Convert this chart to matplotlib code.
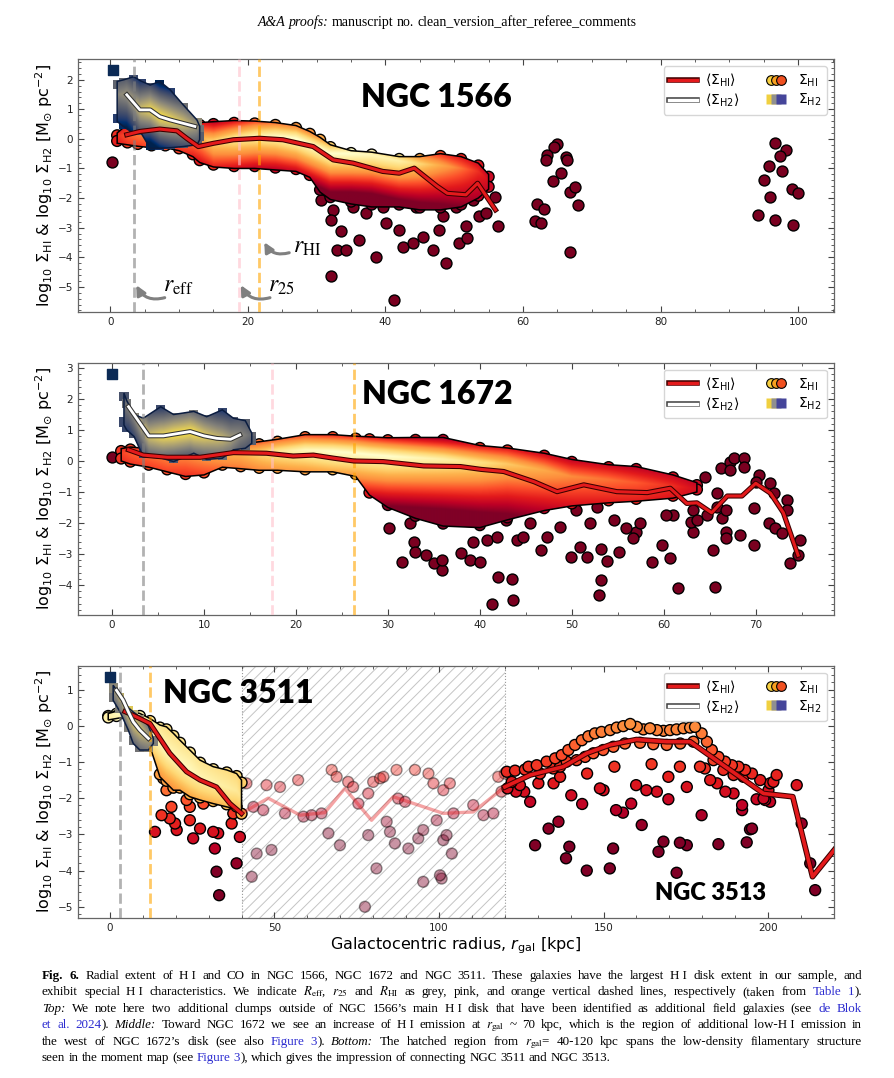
import numpy as np
import matplotlib
matplotlib.use('Agg')
import matplotlib.pyplot as plt
import matplotlib.patheffects as pe
from matplotlib.patches import Polygon
from matplotlib.lines import Line2D
from matplotlib.legend_handler import HandlerTuple
from matplotlib.ticker import MultipleLocator
from matplotlib.colors import Normalize

# ---------------- NGC 1566 ----------------
r1_hi = [2.4, 4.3, 7.2, 9.7, 11.1, 12.8, 15.0, 17.9, 21.7, 25.1, 29.5, 32.4, 35.3, 39.6,
         42.0, 44.2, 47.5, 49.0, 51.7, 53.4, 56.0]
s1_hi = [0.14, 0.25, 0.33, 0.27, 0.02, -0.26, -0.15, -0.03, 0.02, -0.03, -0.26, -0.71, -0.82,
         -1.10, -1.16, -0.99, -1.60, -1.84, -1.89, -1.50, -2.40]
r1_h2 = [2.4, 4.3, 5.8, 7.2, 8.7, 12.3]
s1_h2 = [1.49, 0.98, 0.98, 0.75, 0.64, 0.42]

# dense HI cloud: radius, upper / lower edge, densest ridge and relative density
r1_env = [1.0, 2.5, 4.0, 6.0, 8.0, 10.0, 12.0, 13.0, 15.0, 18.0, 21.0, 24.0, 27.0, 29.0,
          30.5, 32.0, 35.0, 38.0, 42.0, 45.0, 48.0, 51.0, 53.5, 55.0]
r1_top = [0.20, 0.50, 0.45, 0.45, 0.45, 0.45, 0.55, 0.55, 0.58, 0.62, 0.60, 0.55, 0.45, 0.25,
          0.05, -0.20, -0.40, -0.45, -0.60, -0.60, -0.50, -0.60, -0.82, -1.20]
r1_bot = [-0.15, -0.20, -0.25, -0.30, -0.30, -0.40, -0.60, -0.80, -0.95, -1.00, -1.00, -1.05,
          -1.10, -1.30, -1.80, -2.05, -2.20, -2.30, -2.30, -2.40, -2.40, -2.30, -2.00, -1.70]
ridge1 = [0.10, 0.10, 0.10, 0.10, 0.10, 0.10, 0.10, 0.05, -0.10, 0.00, 0.10, 0.10, 0.00, -0.20,
          -0.35, -0.50, -0.50, -0.55, -0.75, -0.85, -0.90, -1.00, -1.10, -1.40]
dens1 = [0.30, 0.40, 0.45, 0.50, 0.50, 0.50, 0.55, 0.60, 0.75, 0.85, 0.90, 0.95, 1.00, 1.00,
         1.00, 1.00, 1.00, 0.95, 0.90, 0.75, 0.60, 0.45, 0.30, 0.20]

# dense H2 cloud
q1_env = [1.0, 2.0, 3.4, 4.5, 5.8, 7.2, 8.7, 10.6, 12.6, 13.0]
q1_top = [1.94, 2.00, 2.10, 1.95, 1.82, 1.94, 1.66, 1.15, 0.64, 0.42]
q1_bot = [0.59, 0.40, 0.19, 0.19, -0.32, -0.32, -0.30, -0.26, -0.20, -0.03]
q1_dens = [0.55, 0.60, 0.70, 0.85, 0.95, 1.00, 0.95, 0.85, 0.65, 0.50]

# sparse HI pixels (main disk outskirts + two field clumps)
r1_pts = [0.3, 30.7, 32.4, 32.1, 33.6, 32.9, 34.3, 36.2, 38.6, 37.2, 40.1, 42.0, 42.5, 44.0,
          45.4, 46.9, 47.8, 48.8, 32.1, 41.3, 35.3, 39.6, 44.4, 48.3, 56.0, 56.3, 53.6, 54.6,
          51.7, 50.7, 51.9, 52.7, 50.2,
          65.0, 64.5, 63.5, 63.3, 66.2, 66.4, 65.5, 64.3, 66.9, 67.6, 68.0, 62.0, 63.0, 61.8,
          62.6, 66.9,
          96.6, 98.3, 97.3, 95.7, 97.6, 95.0, 95.9, 99.1, 100.0, 94.1, 96.6, 99.2]
s1_pts = [-0.77, -2.06, -2.40, -2.74, -3.13, -3.75, -3.75, -3.41, -3.98, -2.51, -2.85, -3.07,
          -3.64, -3.52, -3.30, -3.75, -3.07, -4.20, -4.65, -5.44, -2.29, -2.29, -2.29, -2.62,
          -1.95, -2.96, -2.62, -2.51, -2.96, -3.52, -3.36, -2.06, -2.29,
          -0.17, -0.26, -0.54, -0.71, -0.60, -0.71, -1.14, -1.44, -1.78, -1.61, -2.23, -2.20,
          -2.36, -2.79, -2.85, -3.81,
          -0.15, -0.37, -0.57, -0.91, -1.08, -1.39, -1.95, -1.70, -1.84, -2.57, -2.74, -2.91]
r1_lines = [3.4, 18.7, 21.6]

# ---------------- NGC 1672 ----------------
r2_hi = [1.8, 3.4, 6.0, 9.6, 13.2, 16.8, 19.7, 21.9, 24.1, 26.3, 29.5, 33.9, 37.9, 40.1, 42.6,
         45.9, 48.4, 51.3, 54.9, 58.2, 60.7, 62.5, 63.6, 65.2, 66.9, 68.5, 70.0, 71.6, 73.0, 74.6]
s2_hi = [0.36, 0.19, 0.12, 0.12, 0.27, 0.25, 0.16, 0.19, 0.09, 0.00, -0.02, -0.16, -0.18, -0.27,
         -0.34, -0.67, -0.99, -0.77, -0.99, -1.02, -0.88, -1.37, -1.35, -1.67, -1.13, -1.13,
         -0.72, -1.04, -1.67, -3.04]
r2_h2 = [1.8, 4.0, 5.6, 8.5, 10.0, 11.4, 12.9, 13.9]
s2_h2 = [1.75, 0.81, 0.81, 0.95, 0.81, 0.73, 0.70, 0.84]

h2_env = [1.0, 2.0, 4.0, 6.0, 8.0, 10.0, 12.0, 14.0, 16.0, 18.0, 21.0, 24.0, 26.5, 28.0, 30.0,
          33.0, 36.0, 40.0, 43.0, 47.0, 50.0, 54.0, 57.0, 61.0, 63.6]
h2_top = [0.40, 0.45, 0.40, 0.35, 0.35, 0.40, 0.45, 0.55, 0.62, 0.70, 0.85, 0.85, 0.80, 0.78,
          0.75, 0.76, 0.76, 0.50, 0.42, 0.25, 0.05, -0.12, -0.18, -0.45, -0.70]
h2_bot = [0.00, -0.10, -0.20, -0.35, -0.50, -0.45, -0.20, -0.25, -0.30, -0.30, -0.35, -0.35,
          -0.50, -1.10, -1.50, -1.85, -2.10, -2.15, -1.90, -1.60, -1.45, -1.35, -1.30, -1.20, -1.00]
ridge2 = [0.25, 0.25, 0.20, 0.15, 0.15, 0.15, 0.20, 0.25, 0.25, 0.30, 0.35, 0.30, 0.25, 0.20,
          0.15, 0.10, 0.05, -0.05, -0.10, -0.30, -0.50, -0.60, -0.70, -0.80, -0.90]
dens2 = [0.35, 0.40, 0.45, 0.50, 0.50, 0.55, 0.60, 0.65, 0.75, 0.85, 0.95, 1.00, 1.00, 1.00,
         1.00, 0.95, 0.90, 0.80, 0.70, 0.60, 0.50, 0.45, 0.40, 0.30, 0.20]

q2_env = [1.3, 1.6, 2.4, 3.4, 5.3, 6.7, 8.9, 10.3, 12.0, 13.2, 14.5, 15.2]
q2_top = [2.19, 1.95, 1.50, 1.38, 1.75, 1.50, 1.60, 1.43, 1.65, 1.38, 1.30, 0.90]
q2_bot = [1.16, 1.00, 0.79, 0.14, 0.10, -0.02, 0.25, 0.05, 0.09, 0.36, 0.41, 0.57]
q2_dens = [0.40, 0.50, 0.60, 0.80, 0.95, 1.00, 1.00, 0.90, 0.80, 0.65, 0.50, 0.40]

r2_pts = [0.0, 30.1, 31.5, 32.8, 33.0, 34.1, 35.0, 35.9, 33.5, 32.4,
          35.9, 37.9, 38.9, 40.0, 42.0, 43.5, 41.3, 43.6, 40.8, 39.3, 44.0, 46.6, 47.3, 49.9,
          50.9, 51.6, 53.2, 53.8, 53.2, 53.0, 55.1, 57.0, 56.7, 58.7, 59.8, 60.7, 61.6, 65.6,
          65.4, 63.2, 63.0, 64.7, 65.8, 64.5, 65.8, 66.2, 67.2, 67.6, 68.7, 68.7, 67.2, 70.3,
          70.0, 71.6, 72.0, 73.4, 73.4, 71.4, 72.1, 72.8, 74.8, 73.7, 74.6, 69.8, 69.8, 68.3,
          66.8, 66.8, 66.3, 66.8, 63.2, 63.6, 61.0, 60.2, 57.4, 55.9, 54.6, 52.7, 52.0, 50.5,
          48.7, 45.5, 44.7, 42.8, 41.9]
s2_pts = [0.12, -2.17, -3.25, -2.60, -2.93, -3.04, -3.30, -3.52, -1.58, -2.01,
          -3.20, -2.98, -3.20, -3.25, -3.73, -3.82, -4.60, -4.47, -2.55, -2.60, -2.55, -2.87,
          -2.44, -3.09, -2.77, -3.09, -2.85, -3.22, -3.84, -4.33, -2.93, -2.28, -2.50, -3.25,
          -2.71, -3.14, -4.11, -4.08, -2.87, -2.28, -1.96, -1.74, -1.47, -0.51, -1.04, -0.24,
          -0.02, 0.09, 0.09, -0.18, -0.29, -0.45, -0.67, -0.72, -1.04, -1.26, -1.58, -2.01,
          -2.17, -2.34, -2.55, -3.30, -3.04, -2.71, -1.53, -2.39, -2.28, -2.50, -1.85, -1.58,
          -1.58, -1.90, -1.74, -1.74, -2.01, -2.17, -1.90, -1.47, -2.01, -1.58, -2.12, -2.01,
          -2.44, -1.90, -2.44]
r2_lines = [3.4, 17.4, 26.3]

# ---------------- NGC 3511 / NGC 3513 ----------------
r3_hi = [4.6, 9.1, 12.2, 15.2, 18.2, 23.3, 27.4, 32.4, 36.5, 40.0, 48.1, 57.8, 65.3, 71.4, 79.5,
         86.1, 101.3, 110.4, 120.0, 127.7, 137.8, 144.9, 151.9, 160.0, 169.2, 176.3, 186.4,
         198.6, 207.5, 213.5, 220.1]
s3_hi = [0.39, 0.20, 0.06, -0.35, -0.76, -1.27, -1.50, -1.69, -2.15, -2.42, -2.00, -2.47, -2.40,
         -1.73, -2.61, -1.96, -2.42, -2.38, -1.69, -1.36, -1.13, -0.76, -0.53, -0.38, -0.44,
         -0.44, -1.09, -1.87, -1.96, -4.17, -3.43]
r3_h2 = [2.0, 4.0, 5.6, 7.1, 9.1, 11.7]
s3_h2 = [0.98, 0.71, 0.39, 0.11, -0.12, -0.35]

h3_env = [-0.5, 2.0, 5.0, 9.1, 12.2, 15.2, 17.2, 19.3, 21.3, 24.3, 27.4, 31.4, 35.5, 38.5, 40.0]
h3_top = [0.34, 0.40, 0.43, 0.34, 0.20, 0.02, -0.03, -0.21, -0.40, -0.67, -0.95, -1.13, -1.22,
          -1.32, -1.50]
h3_bot = [0.16, 0.20, 0.25, -0.12, -0.58, -1.41, -1.59, -1.78, -1.78, -1.96, -2.05, -2.15,
          -2.24, -2.30, -2.50]
ridge3 = [0.25, 0.30, 0.32, 0.10, -0.15, -0.50, -0.70, -0.85, -1.00, -1.20, -1.40, -1.55, -1.70,
          -1.80, -2.00]
dens3 = [0.90, 0.95, 0.95, 0.95, 0.95, 0.95, 0.95, 0.95, 0.95, 0.95, 0.92, 0.90, 0.88, 0.85, 0.80]

q3_env = [1.0, 3.0, 5.6, 7.1, 9.1, 11.7, 13.2]
q3_top = [1.12, 0.85, 0.50, 0.38, 0.25, 0.00, -0.35]
q3_bot = [0.70, 0.40, -0.12, -0.49, -0.67, -0.67, -0.49]
q3_dens = [0.60, 0.80, 0.90, 0.90, 0.85, 0.70, 0.55]

# NGC 3511 outer pixels
r3a = [16.2, 17.2, 13.7, 15.7, 18.2, 18.7, 19.8, 20.3, 24.3, 25.3, 27.4, 31.4, 32.9, 31.9, 32.4,
       33.2, 38.5, 39.5, 37.0, 37.5, 36.5, 32.4, 28.4, 24.3, 23.3]
s3a = [-1.45, -1.78, -2.93, -2.47, -2.56, -2.24, -2.70, -2.88, -2.61, -3.11, -2.84, -2.93, -2.97,
       -3.39, -4.03, -4.68, -3.80, -3.07, -2.70, -2.42, -1.96, -1.96, -2.15, -2.24, -2.05]
# filament (hatched region)
r3b = [41.5, 43.6, 46.6, 44.6, 49.1, 43.1, 47.6, 51.7, 53.2, 57.2, 58.8, 61.3, 64.3, 66.4, 67.4,
       68.9, 69.9, 72.4, 73.9, 75.5, 77.5, 78.5, 78.5, 80.0, 81.0, 82.1, 83.1, 84.1, 85.1, 86.6,
       87.1, 87.6, 89.7, 90.7, 92.7, 93.7, 95.2, 96.8, 95.2, 98.3, 99.3, 100.8, 101.3, 101.3,
       103.3, 104.4, 102.3, 103.9, 100.3, 110.4, 113.5, 116.5, 120.0, 118.0, 119.0]
s3b = [-1.59, -2.24, -2.33, -3.53, -3.43, -4.17, -1.64, -1.69, -2.42, -1.50, -2.51, -2.47, -2.42,
       -2.97, -1.22, -1.41, -3.30, -1.55, -1.69, -2.15, -5.00, -3.02, -1.87, -1.55, -3.94, -1.45,
       -1.41, -2.65, -2.93, -3.25, -1.22, -2.01, -2.10, -3.39, -1.22, -3.11, -2.88, -1.32, -4.31,
       -1.59, -2.61, -4.22, -3.16, -1.78, -1.59, -2.42, -3.02, -3.53, -4.13, -2.19, -2.47, -2.42,
       -1.32, -1.41, -1.82]
# NGC 3513 pixels
r3c = [120.6, 123.1, 126.1, 127.2, 129.7, 132.7, 135.3, 137.3, 139.3, 141.3, 143.4, 145.4, 147.4,
       149.4, 152.0, 154.0, 156.0, 158.1, 160.1, 162.1, 164.1, 166.2, 168.2, 170.2, 172.2, 174.3,
       176.3, 177.8, 179.8, 181.4, 182.9, 184.9, 186.9, 189.0, 191.0, 193.0, 195.1, 197.6, 200.6,
       202.6, 201.6, 200.1, 199.1, 200.6, 208.7,
       122.1, 124.6, 130.7, 134.7, 136.8, 138.8, 141.8, 144.4, 146.9, 149.9, 153.0, 156.5, 161.1,
       165.1, 169.2, 173.3, 177.3, 183.4, 186.4, 189.5, 192.5,
       120.8, 123.4, 125.9, 127.7, 130.2, 134.8, 136.8, 140.2, 143.5, 145.0, 148.9, 150.0, 153.3,
       153.8, 155.9, 158.4, 159.9, 163.0, 166.2, 169.7, 169.7, 164.6, 173.2, 175.3, 179.3, 180.8,
       182.4, 184.5, 187.0, 189.5, 192.1, 192.1, 195.1, 196.5, 198.6, 210.2, 212.8, 214.3,
       129.2, 133.3, 136.3, 139.6, 138.6, 144.9, 151.9, 152.9, 161.6, 166.7, 168.2, 172.2, 173.2,
       175.3, 179.8, 184.9, 193.5, 194.5]
s3c = [-1.27, -1.24, -1.21, -1.13, -1.09, -0.99, -0.90, -0.81, -0.67, -0.53, -0.40, -0.29, -0.21,
       -0.17, -0.12, -0.05, -0.01, 0.05, -0.03, -0.10, -0.07, -0.12, -0.14, -0.12, -0.10, -0.07,
       -0.05, -0.03, -0.21, -0.44, -0.67, -0.86, -0.99, -1.09, -1.13, -1.22, -1.32, -1.50, -1.59,
       -1.36, -1.55, -1.78, -2.05, -2.10, -1.64,
       -1.55, -1.64, -1.32, -1.18, -1.13, -0.99, -0.95, -0.86, -0.76, -0.67, -0.58, -0.49, -0.47,
       -0.51, -0.53, -0.49, -0.44, -0.95, -1.22, -1.36, -1.41,
       -1.73, -1.82, -1.82, -2.10, -1.59, -1.59, -1.41, -1.92, -2.16, -1.32, -1.73, -1.78, -1.13,
       -2.33, -2.40, -2.15, -1.64, -1.78, -1.82, -2.03, -1.41, -1.06, -1.13, -1.69, -1.13, -1.18,
       -1.50, -1.59, -1.82, -1.87, -2.19, -2.33, -2.84, -2.03, -2.01, -2.70, -3.80, -4.54,
       -3.30, -2.84, -2.65, -3.34, -3.66, -4.00, -3.94, -3.39, -2.74, -3.48, -3.20, -4.06, -3.23,
       -3.30, -2.47, -3.27, -3.22, -2.86]
r3_lines = [3.0, 12.2]
filament = (40, 120)

ylabel = r'log$_{10}$ $\Sigma_{\rm HI}$ & log$_{10}$ $\Sigma_{\rm H2}$ [M$_{\odot}$ pc$^{-2}$]'
line_colors = ['grey', 'pink', 'orange']
hi_cmap = plt.get_cmap('YlOrRd_r')
h2_cmap = plt.get_cmap('cividis')
dark = '#7a0020'
DOT = 62

fig = plt.figure(figsize=(8.94, 10.78), dpi=100)
plt.rcParams['hatch.linewidth'] = 0.7


def cloud(ax, r_env, top, bot, r_mid, mid, dens, cmap, wup, wdown, z, edge, marker='o', pad=0.08):
    r_env = np.asarray(r_env)
    top = np.asarray(top)
    bot = np.asarray(bot)
    rr = np.linspace(r_env.min(), r_env.max(), 600)
    ss = np.linspace(bot.min() - 0.1, top.max() + 0.1, 400)
    R, S = np.meshgrid(rr, ss)
    P = np.interp(R, r_mid, mid)
    K = np.interp(R, r_env, dens)
    W = np.where(S > P, wup, wdown)
    T = np.clip(1 - np.abs(S - P) / W, 0, 1) * K
    verts = np.column_stack([np.r_[r_env, r_env[::-1]], np.r_[top, bot[::-1]]])
    poly = Polygon(verts, closed=True, fc='none', ec=edge, lw=1.1, zorder=z + 0.1)
    ax.add_patch(poly)
    im = ax.imshow(T, extent=[rr[0], rr[-1], ss[0], ss[-1]], origin='lower', aspect='auto',
                   cmap=cmap, vmin=0, vmax=1, zorder=z, interpolation='bilinear')
    im.set_clip_path(poly)
    # scalloped rim made by the outermost pixels
    mids = np.interp(r_env, r_mid, mid)
    for yy, w in [(top - pad, wup), (bot + pad, wdown)]:
        t = np.clip(1 - np.abs(yy - mids) / w, 0, 1) * np.asarray(dens)
        if marker == 'o':
            ax.scatter(r_env, yy, s=DOT, c=cmap(t), edgecolors='black', linewidths=1.0,
                       zorder=z - 0.05)
        else:
            ax.scatter(r_env, yy, s=45, marker='s', c=cmap(t), edgecolors='none',
                       zorder=z - 0.05)


def profile(ax, r, s, color, edge, lw=2.2, alpha=1.0, z=6):
    effects = [pe.Stroke(linewidth=lw + 1.5, foreground=edge), pe.Normal()] if edge else None
    ax.plot(r, s, color=color, lw=lw, alpha=alpha, zorder=z, path_effects=effects)


def style(ax, xlim, ylim, xmaj, xmin):
    ax.set_xlim(xlim)
    ax.set_ylim(ylim)
    ax.xaxis.set_major_locator(MultipleLocator(xmaj))
    ax.xaxis.set_minor_locator(MultipleLocator(xmin))
    ax.yaxis.set_major_locator(MultipleLocator(1))
    ax.yaxis.set_minor_locator(MultipleLocator(0.2))
    ax.tick_params(which='both', direction='in', top=True, right=True, labelsize=7.5,
                   color='#444444', labelcolor='#222222')
    ax.tick_params(which='major', length=4, width=0.8)
    ax.tick_params(which='minor', length=2, width=0.6)
    for sp in ax.spines.values():
        sp.set_color('#666666')
        sp.set_linewidth(0.9)
    ax.set_ylabel(ylabel, fontsize=11.5, labelpad=2)


def vlines(ax, xs, colors):
    for x, c in zip(xs, colors):
        ax.axvline(x, color=c, ls='--', lw=2, alpha=0.6, zorder=4)


def legend(ax):
    l_hi = Line2D([], [], color='#e41a1c', lw=2.5,
                  path_effects=[pe.Stroke(linewidth=4, foreground='#400000'), pe.Normal()])
    l_h2 = Line2D([], [], color='white', lw=2.5,
                  path_effects=[pe.Stroke(linewidth=4, foreground='#404040'), pe.Normal()])
    circ = tuple(Line2D([], [], ls='none', marker='o', ms=7, mfc=c, mec='black', mew=0.8)
                 for c in ['#f8d040', '#f8a020', '#f05020'])
    sq = tuple(Line2D([], [], ls='none', marker='s', ms=7.5, mfc=c, mec='none')
               for c in ['#f0d040', '#909090', '#45459a'])
    ax.legend([l_hi, l_h2, circ, sq],
              [r'$\langle\Sigma_{\rm HI}\rangle$', r'$\langle\Sigma_{\rm H2}\rangle$',
               r'$\Sigma_{\rm HI}$', r'$\Sigma_{\rm H2}$'],
              ncol=2, loc='upper right', fontsize=10, handlelength=2.0, columnspacing=1.6,
              handletextpad=0.6, handler_map={tuple: HandlerTuple(ndivide=None, pad=-0.9)},
              labelspacing=0.2, borderpad=0.4).set_zorder(10)


def name(ax, x, y, text, size):
    ax.text(x, y, text, fontsize=size, fontweight='heavy', family='Lato', va='center',
            ha='left', zorder=8)


ax1 = fig.add_axes([0.0872, 0.7106, 0.8456, 0.2347])
ax2 = fig.add_axes([0.0872, 0.4295, 0.8456, 0.2340])
ax3 = fig.add_axes([0.0872, 0.1484, 0.8456, 0.2341])

# ---- top panel ----
ax1.scatter(r1_pts, s1_pts, s=DOT, c=dark, edgecolors='black', linewidths=1.0, zorder=2)
cloud(ax1, r1_env, r1_top, r1_bot, r1_env, ridge1, dens1, hi_cmap, 0.8, 1.3, 3, 'black')
cloud(ax1, q1_env, q1_top, q1_bot, r1_h2, s1_h2, q1_dens, h2_cmap, 1.1, 1.1, 3.5, '#0b1d40',
      marker='s', pad=0.1)
ax1.scatter([0.4], [2.33], s=45, marker='s', c='#0b2a55', zorder=3.5)
vlines(ax1, r1_lines, line_colors)
profile(ax1, r1_hi, s1_hi, '#e41a1c', '#3a0000')
profile(ax1, r1_h2, s1_h2, 'white', '#333333', lw=2.0, z=6.5)
arrow = dict(arrowstyle='-|>', color='#808080', lw=2.2, mutation_scale=14,
             connectionstyle='arc3,rad=-0.45')
for lab, xt, yt, tail, head in [(r'$r_{\rm eff}$', 7.7, -4.95, (8.3, -5.34), (3.6, -4.86)),
                                (r'$r_{25}$', 22.9, -4.95, (23.6, -5.34), (18.8, -4.86)),
                                (r'$r_{\rm HI}$', 26.5, -3.62, (26.4, -3.82), (22.2, -3.41))]:
    ax1.annotate('', xy=head, xytext=tail, arrowprops=arrow, zorder=7)
    ax1.text(xt, yt, lab, fontsize=17, math_fontfamily='stix', va='center', ha='left', zorder=7)
name(ax1, 36.5, 1.40, 'NGC 1566', 23)
legend(ax1)
style(ax1, (-4.7, 105.2), (-5.85, 2.7), 20, 5)

# ---- middle panel ----
ax2.scatter(r2_pts, s2_pts, s=DOT, c=dark, edgecolors='black', linewidths=1.0, zorder=2)
cloud(ax2, h2_env, h2_top, h2_bot, h2_env, ridge2, dens2, hi_cmap, 0.75, 1.6, 3, 'black')
cloud(ax2, q2_env, q2_top, q2_bot, r2_h2, s2_h2, q2_dens, h2_cmap, 1.1, 1.1, 3.5, '#0b1d40',
      marker='s', pad=0.1)
ax2.scatter([0.0], [2.81], s=45, marker='s', c='#0b2a55', zorder=3.5)
vlines(ax2, r2_lines, line_colors)
profile(ax2, r2_hi, s2_hi, '#e41a1c', '#3a0000')
profile(ax2, r2_h2, s2_h2, 'white', '#333333', lw=2.0, z=6.5)
name(ax2, 27.2, 2.16, 'NGC 1672', 23)
legend(ax2)
style(ax2, (-3.7, 78.5), (-4.97, 3.17), 10, 5)

# ---- bottom panel ----
ax3.axvspan(*filament, facecolor='none', edgecolor='#c4c4c4', hatch='///', lw=0, zorder=0.5)
for x in filament:
    ax3.axvline(x, color='0.6', ls=':', lw=0.8, zorder=0.6)
neg3a = -np.array(s3a)
neg3b = -np.array(s3b)
neg3c = -np.array(s3c)
order_a = np.argsort(s3a)
ax3.scatter(np.array(r3a)[order_a], np.array(s3a)[order_a], s=DOT, c=neg3a[order_a],
            cmap='YlOrRd', norm=Normalize(-1, 4), edgecolors='black', linewidths=1.0, zorder=2)
ax3.scatter(r3b, s3b, s=DOT, c=neg3b, cmap='YlOrRd', norm=Normalize(-3, 3), edgecolors='black',
            linewidths=1.0, alpha=0.42, zorder=2)
order_c = np.argsort(s3c)
ax3.scatter(np.array(r3c)[order_c], np.array(s3c)[order_c], s=DOT, c=neg3c[order_c],
            cmap='YlOrRd', norm=Normalize(-3, 3), edgecolors='black', linewidths=1.0, zorder=2)
cloud(ax3, h3_env, h3_top, h3_bot, h3_env, ridge3, dens3, hi_cmap, 4.0, 2.0, 3, 'black',
      pad=0.07)
cloud(ax3, q3_env, q3_top, q3_bot, r3_h2, s3_h2, q3_dens, h2_cmap, 1.0, 1.0, 3.5, '#0b1d40',
      marker='s', pad=0.08)
ax3.scatter([0.0], [1.35], s=45, marker='s', c='#0b2a55', zorder=3.5)
vlines(ax3, r3_lines, ['grey', 'orange'])
r3_hi_a = np.array(r3_hi)
s3_hi_a = np.array(s3_hi)
inner = r3_hi_a <= filament[0]
mid = (r3_hi_a >= filament[0]) & (r3_hi_a <= filament[1])
outer = r3_hi_a >= filament[1]
profile(ax3, r3_hi_a[inner], s3_hi_a[inner], '#e41a1c', '#3a0000')
profile(ax3, r3_hi_a[mid], s3_hi_a[mid], '#e41a1c', None, lw=2.4, alpha=0.4)
profile(ax3, r3_hi_a[outer], s3_hi_a[outer], '#e41a1c', '#3a0000', lw=2.6)
profile(ax3, r3_h2, s3_h2, 'white', '#333333', lw=2.0, z=6.5)
name(ax3, 16.1, 0.90, 'NGC 3511', 23)
name(ax3, 165.7, -4.62, 'NGC 3513', 17)
legend(ax3)
style(ax3, (-9.7, 220), (-5.31, 1.66), 50, 10)
ax3.set_xlabel(r'Galactocentric radius, $r_{\rm gal}$ [kpc]', fontsize=11.5, labelpad=2)

# ---- header and caption ----
renderer = fig.canvas.get_renderer()
serif = dict(family='Liberation Serif', math_fontfamily='stix')


def measure(text, kw):
    a = fig.text(0, 0, '|' + text + '|', **kw)
    b = fig.text(0, 0, '||', **kw)
    w = a.get_window_extent(renderer).width - b.get_window_extent(renderer).width
    a.remove()
    b.remove()
    return w


def rich_line(pieces, x0, y, size, target=None, center=None):
    items = []
    for text, extra in pieces:
        kw = dict(serif, fontsize=size, **extra)
        for i, part in enumerate(text.split(' ')):
            if i > 0:
                items.append((' ', kw, True))
            if part:
                items.append((part, kw, False))
    widths = [measure(t, kw) for t, kw, _ in items]
    natural = sum(widths)
    nsp = sum(1 for it in items if it[2])
    extra_sp = (target - natural) / nsp if (target and nsp) else 0.0
    x = center - natural / 2 if center is not None else x0
    for (t, kw, is_sp), w in zip(items, widths):
        if is_sp:
            x += w + extra_sp
            continue
        fig.text(x / 894, 1 - y / 1078, t, va='baseline', ha='left', **kw)
        x += w


R = {}
B = {'weight': 'bold'}
I = {'style': 'italic'}
L = {'color': '#2b2bd0'}
HI = 'H\u00a0I'

rich_line([('A&A proofs:', I), (' manuscript no. clean_version_after_referee_comments', R)],
          0, 26, 10, center=447)

caption = [
    [('Fig. 6.', B), (f' Radial extent of {HI} and CO in NGC 1566, NGC 1672 and NGC 3511. These '
                      f'galaxies have the largest {HI} disk extent in our sample, and', R)],
    [(f'exhibit special {HI} characteristics. We indicate $R_\\mathrm{{eff}}$, $r_{{25}}$ and '
      f'$R_\\mathrm{{HI}}$ as grey, pink, and orange vertical dashed lines, respectively (taken '
      f'from ', R), ('Table 1', L), (').', R)],
    [('Top:', I), (f' We note here two additional clumps outside of NGC 1566\u2019s main {HI} disk '
                   f'that have been identified as additional field galaxies (see ', R),
     ('de Blok', L)],
    [('et al. 2024', L), ('). ', R), ('Middle:', I),
     (f' Toward NGC 1672 we see an increase of {HI} emission at $r_\\mathrm{{gal}}$ ~ 70 kpc, '
      f'which is the region of additional low-{HI} emission in', R)],
    [('the west of NGC 1672\u2019s disk (see also ', R), ('Figure 3', L), ('). ', R),
     ('Bottom:', I), (' The hatched region from $r_\\mathrm{gal}$= 40-120 kpc spans the '
                      'low-density filamentary structure', R)],
    [('seen in the moment map (see ', R), ('Figure 3', L),
     ('), which gives the impression of connecting NGC 3511 and NGC 3513.', R)],
]
baselines = [979, 995, 1012, 1028, 1045, 1061]
for k, (pieces, yb) in enumerate(zip(caption, baselines)):
    rich_line(pieces, 42, yb, 9.4, target=(820 if k < 5 else None))

fig.savefig('out.png', dpi=100)
